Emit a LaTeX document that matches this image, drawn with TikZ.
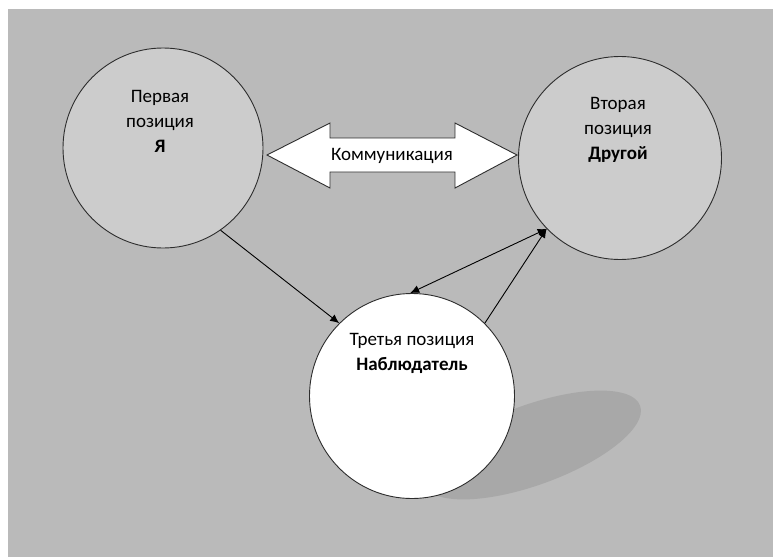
\documentclass[tikz,border=0pt]{standalone}
\usepackage{fontspec}
\setmainfont{Carlito}
\usetikzlibrary{arrows.meta}
\definecolor{bg}{RGB}{186,186,186}
\definecolor{circlegray}{RGB}{204,204,204}
\definecolor{shadowgray}{RGB}{168,168,168}
\definecolor{rim}{RGB}{45,45,45}
\tikzstyle{position}=[circle, draw=rim, line width=0.9pt, fill=circlegray, minimum size=200pt, inner sep=0pt]
\tikzstyle{observer}=[position, fill=white, minimum size=205pt]
\tikzstyle{txt}=[align=center, inner sep=0pt, font=\fontsize{19}{25}\selectfont]
\tikzstyle{edge}=[-{Latex[length=9pt,width=8pt]}, line width=0.9pt]
\tikzstyle{dedge}=[{Latex[length=9pt,width=8pt]}-{Latex[length=9pt,width=8pt]}, line width=0.9pt]
\tikzstyle{bigarrow}=[draw=rim, line width=0.9pt, fill=white]

\begin{document}
\begin{tikzpicture}[x=1pt, y=-1pt]
	\useasboundingbox (0,0) rectangle (773,557);
	\fill[bg] (8,9) rectangle (773,557);
	% shadow under the observer
	\fill[shadowgray] (532,445) ellipse [x radius=115, y radius=40, rotate=20];
	
	\draw (163,148) node[position] (p1) {};
	\draw (620,158) node[position, minimum size=203pt] (p2) {};
	\draw (412,396) node[observer] (p3) {};
	
	\node[txt] (t1) at (160,121) {Первая\\позиция\\\textbf{Я}};
	\node[txt] (t2) at (618,130) {Вторая\\позиция\\\textbf{Другой}};
	\node[txt] (t3) at (412,353) {Третья позиция\\\textbf{Наблюдатель}};
	%%
	\draw[bigarrow] (267,155) -- (330,123) -- (330,138) -- (455,138) -- (455,123)
		-- (517,155) -- (455,188) -- (455,172) -- (330,172) -- (330,188) -- cycle;
	\node[txt] (comm) at (392,156) {Коммуникация};
	%%
	\draw[edge] (p1.-55) -- (p3.135);
	\draw[dedge] (p3.91) -- (p2.224);
	\draw[edge] (p3.45) -- (p2.224);
\end{tikzpicture}
\end{document}
